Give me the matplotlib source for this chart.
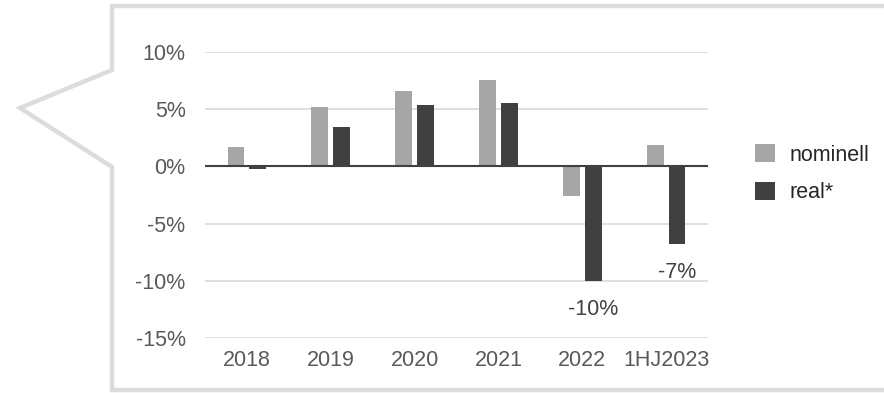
import matplotlib.pyplot as plt
import numpy as np
from matplotlib.lines import Line2D

categories = ["2018", "2019", "2020", "2021", "2022", "1HJ2023"]
nominell = [1.7, 5.2, 6.55, 7.55, -2.6, 1.85]
real = [-0.2, 3.45, 5.35, 5.5, -10.05, -6.8]
annotated = {4: "-10%", 5: "-7%"}
y_ticks = [-15, -10, -5, 0, 5, 10]

W, H = 884, 393
plt.rcParams["font.family"] = ["Liberation Sans", "DejaVu Sans"]
text_color = "#595959"

fig = plt.figure(figsize=(W / 100, H / 100), dpi=100)
ax = fig.add_axes([205 / W, 1 - 338 / H, 503 / W, 286 / H])

# speech bubble frame
px = [W + 10, 112, 112, 20, 112, 112, W + 10]
py = [6, 6, 70, 108, 167, 390, 390]
fig.add_artist(Line2D([x / W for x in px], [1 - y / H for y in py],
                      transform=fig.transFigure, color="#dcdcdc",
                      linewidth=3.2, solid_joinstyle="miter"))

x = np.arange(len(categories))
bw = 0.2
off = 0.13
b1 = ax.bar(x - off, nominell, bw, color="#a6a6a6", label="nominell", zorder=3)
b2 = ax.bar(x + off, real, bw, color="#404040", label="real*", zorder=3)

for i, txt in annotated.items():
    ax.annotate(txt, (x[i] + off, real[i]), xytext=(0, -13), textcoords="offset points",
                ha="center", va="top", fontsize=15.5, color="#404040")

ax.set_xlim(-0.5, len(categories) - 0.5)
ax.set_ylim(-15, 10)
ax.set_yticks(y_ticks)
ax.set_yticklabels([f"{t}%" for t in y_ticks])
ax.set_xticks(x)
ax.set_xticklabels(categories)
ax.tick_params(axis="both", length=0, labelsize=15.5, labelcolor=text_color)
ax.tick_params(axis="y", pad=14)
ax.tick_params(axis="x", pad=9)
for t in y_ticks:
    if t != 0:
        ax.axhline(t, color="#d9d9d9", linewidth=1.2, zorder=1)
ax.axhline(0, color="#404040", linewidth=1.5, zorder=4)
for s in ax.spines.values():
    s.set_visible(False)

fig.legend(handles=[b1, b2], loc="upper left", bbox_to_anchor=(736 / W, 1 - 125 / H),
           frameon=False, fontsize=15.5, handlelength=0.9, handleheight=0.9,
           labelspacing=0.75, handletextpad=0.7, labelcolor="#262626")

fig.savefig("out.png", dpi=100)
